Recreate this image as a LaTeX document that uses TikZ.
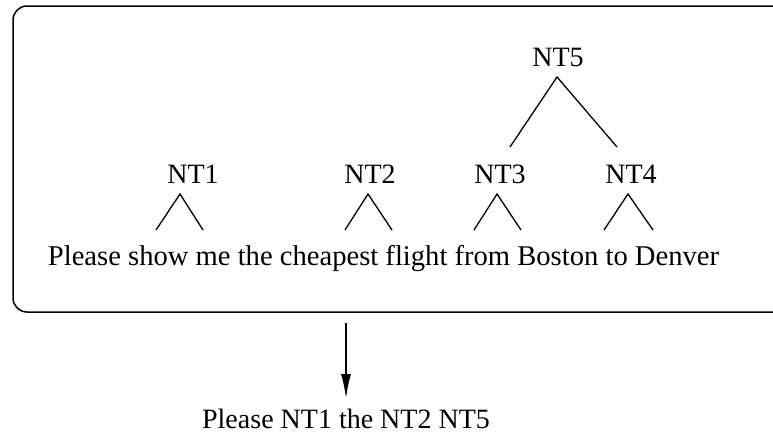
\documentclass[tikz,border=0pt]{standalone}
\usepackage{fontspec}
\setmainfont{Liberation Serif}
\usetikzlibrary{arrows.meta}
\begin{document}
\begin{tikzpicture}[x=1pt,y=-1pt,
  lbl/.style={anchor=base,inner sep=0pt,font=\fontsize{28}{33}\selectfont},
  branch/.style={line width=1.3pt},
  frame/.style={line width=1.5pt,rounded corners=14pt},
  flow/.style={line width=1.3pt,-{Latex[length=24pt,width=10pt]}}]
\useasboundingbox (0,0) rectangle (773,434);
\clip (0,0) rectangle (773,434);
% frame
\draw[frame] (800,6) -- (13,6) -- (13,312) -- (800,312);
% labels
\node[lbl] (nt5) at (558,66) {NT5};
\node[lbl] (nt1) at (193,183) {NT1};
\node[lbl] (nt2) at (370,183) {NT2};
\node[lbl] (nt3) at (500,183) {NT3};
\node[lbl] (nt4) at (631,183) {NT4};
\node[lbl,font=\fontsize{28.6}{33}\selectfont] (sent) at (383.5,265) {Please show me the cheapest flight from Boston to Denver};
\node[lbl] (out) at (346,428) {Please NT1 the NT2 NT5};
% tree coordinates
\coordinate (a5) at (557,77);  \coordinate (l5) at (510,147); \coordinate (r5) at (617,147);
\coordinate (a1) at (180,194); \coordinate (l1) at (156,230); \coordinate (r1) at (203,230);
\coordinate (a2) at (368,194); \coordinate (l2) at (345,230); \coordinate (r2) at (392,230);
\coordinate (a3) at (497,194); \coordinate (l3) at (474,230); \coordinate (r3) at (521,230);
\coordinate (a4) at (628,194); \coordinate (l4) at (604,230); \coordinate (r4) at (653,230);
\draw[branch] (l5) -- (a5) -- (r5);
\draw[branch] (l1) -- (a1) -- (r1);
\draw[branch] (l2) -- (a2) -- (r2);
\draw[branch] (l3) -- (a3) -- (r3);
\draw[branch] (l4) -- (a4) -- (r4);
% arrow
\coordinate (atop) at (346,323);
\coordinate (abot) at (346,398);
\draw[flow] (atop) -- (abot);
\end{tikzpicture}
\end{document}
